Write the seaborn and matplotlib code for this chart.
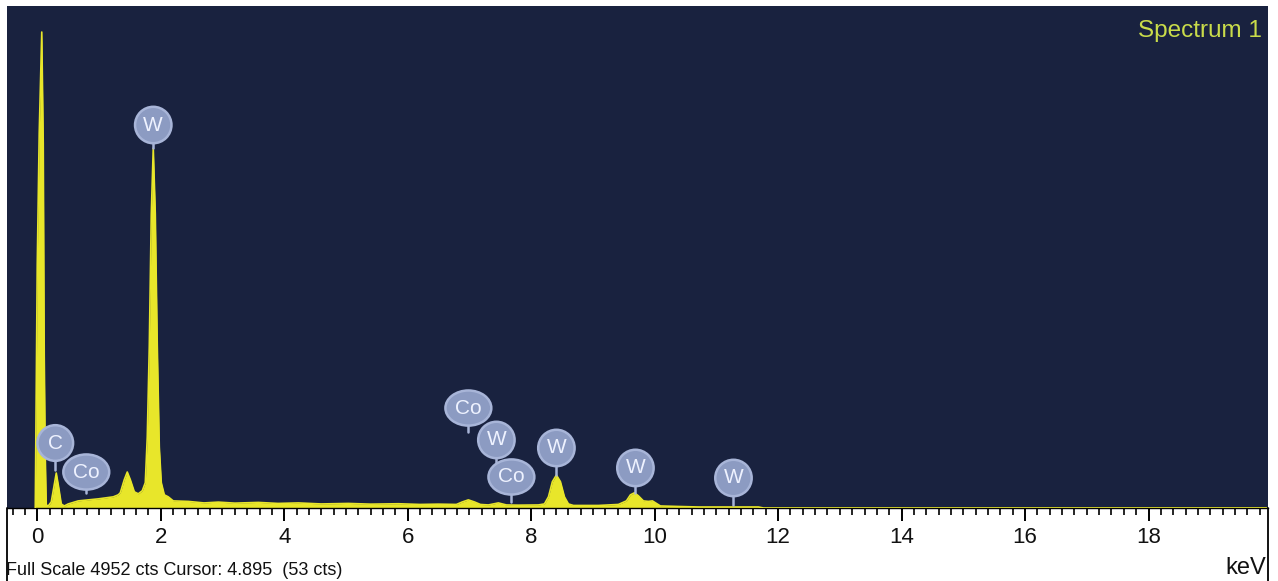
import matplotlib
matplotlib.use("Agg")
import matplotlib.pyplot as plt
import seaborn as sns
import pandas as pd
from matplotlib.lines import Line2D
from matplotlib.ticker import MultipleLocator

# ---- data (energy in keV, intensity in counts) ----
energy_kev = [-0.032, -0.016, 0.000, 0.032, 0.073, 0.097, 0.113, 0.130, 0.146,
              0.178, 0.227, 0.267, 0.308, 0.348, 0.389, 0.437,
              0.502, 0.664, 0.826, 0.988, 1.231, 1.312,
              1.345, 1.410, 1.458, 1.507, 1.572, 1.636, 1.701,
              1.750, 1.782, 1.815, 1.847, 1.879, 1.912, 1.944, 1.977, 2.009, 2.058, 2.122, 2.203,
              2.447, 2.700, 2.933, 3.200, 3.581, 3.900, 4.229, 4.600, 5.039, 5.400, 5.849, 6.200, 6.497,
              6.789, 6.886, 6.983, 7.080, 7.178,
              7.307, 7.469, 7.599, 7.793, 8.117,
              8.215, 8.280, 8.344, 8.409, 8.474, 8.539, 8.604, 8.685,
              9.089, 9.413, 9.543, 9.608, 9.673, 9.737, 9.818, 9.899, 9.964, 10.029, 10.094,
              10.386, 10.710, 11.682, 11.763, 19.910]
counts = [0, 1200, 2400, 3700, 4695, 3600, 1500, 500, 30,
          20, 60, 200, 345, 200, 40, 20,
          40, 70, 80, 90, 110, 130,
          150, 280, 355, 280, 160, 140, 170,
          250, 700, 1600, 2900, 3551, 2900, 1600, 600, 250, 130, 110, 70,
          65, 50, 58, 48, 55, 45, 50, 40, 45, 38, 42, 35, 38,
          35, 60, 80, 60, 35,
          30, 50, 30, 28, 30,
          40, 110, 260, 325, 260, 110, 40, 25,
          25, 35, 70, 130, 150, 120, 70, 65, 70, 45, 20,
          15, 10, 10, 0, 0]

# peak identification badges
badge_text = ["C", "Co", "W", "Co", "W", "Co", "W", "W", "W"]
badge_kev = [0.292, 0.794, 1.879, 6.983, 7.437, 7.680, 8.409, 9.689, 11.277]
badge_cts = [641, 355, 3778, 986, 671, 306, 592, 395, 296]
stem_end_cts = [375, 148, 3551, 750, 454, 59, 325, 148, 30]

major_ticks = [0, 2, 4, 6, 8, 10, 12, 14, 16, 18]
full_scale = 4952
info_text = "Full Scale 4952 cts Cursor: 4.895  (53 cts)"
unit_text = "keV"
title_text = "Spectrum 1"

# ---- styling ----
BG = "#19223f"
YELLOW = "#e8e62a"
BADGE = "#8c9bc2"
BADGE_EDGE = "#a8b5d8"

sns.set_theme(style="dark")
plt.rcParams["font.family"] = ["Liberation Sans", "DejaVu Sans"]

W, H = 1278, 581
fig = plt.figure(figsize=(W / 100, H / 100), dpi=100)
fig.patch.set_facecolor("white")
ax_left, ax_right, ax_top, ax_bot = 7, 1268, 6, 508
ax = fig.add_axes([ax_left / W, (H - ax_bot) / H, (ax_right - ax_left) / W, (ax_bot - ax_top) / H])
ax.set_facecolor(BG)

df = pd.DataFrame({"keV": energy_kev, "cts": counts})
ax.fill_between(df["keV"], 0, df["cts"], color=YELLOW, linewidth=0, zorder=2)
sns.lineplot(data=df, x="keV", y="cts", ax=ax, color=YELLOW, linewidth=1.2,
             sort=False, estimator=None, zorder=3)

ax.set_xlim(-0.49, 19.935)
ax.set_ylim(0, full_scale)
ax.set_xlabel("")
ax.set_ylabel("")
ax.grid(False)
ax.set_yticks([])
ax.set_xticks(major_ticks)
ax.set_xticklabels([str(t) for t in major_ticks])
ax.xaxis.set_minor_locator(MultipleLocator(0.2))
ax.tick_params(axis="x", which="major", direction="out", length=9, width=1.4,
               color="black", labelsize=16, pad=5, labelcolor="#111111", bottom=True)
ax.tick_params(axis="x", which="minor", direction="out", length=5, width=1.2,
               color="black", bottom=True)
for s in ["top", "left", "right"]:
    ax.spines[s].set_visible(False)
ax.spines["bottom"].set_color("black")
ax.spines["bottom"].set_linewidth(1.0)

# badges with stems
for t, bx, by, se in zip(badge_text, badge_kev, badge_cts, stem_end_cts):
    ax.plot([bx, bx], [se, by], color=BADGE_EDGE, linewidth=1.8, zorder=4)
    if len(t) > 1:
        bb = dict(boxstyle="ellipse,pad=0.14", fc=BADGE, ec=BADGE_EDGE, lw=1.8)
    else:
        bb = dict(boxstyle="circle,pad=0.4", fc=BADGE, ec=BADGE_EDGE, lw=1.8)
    ax.text(bx, by, t, ha="center", va="center", fontsize=15, color="#eef2ff",
            bbox=bb, zorder=5)

# title at top right
ax.text(0.9955, 0.973, title_text, transform=ax.transAxes, ha="right", va="top",
        fontsize=17.5, color="#c9dc4a")

# frame lines extending into the lower panel
fig.add_artist(Line2D([ax_left / W, ax_left / W], [0, (H - ax_bot) / H], color="black", lw=1.3))
fig.add_artist(Line2D([ax_right / W, ax_right / W], [0, (H - ax_bot) / H], color="black", lw=1.3))

fig.text(6 / W, 2 / H, info_text, ha="left", va="bottom", fontsize=13, color="#111111")
fig.text(1266 / W, 2 / H, unit_text, ha="right", va="bottom", fontsize=17, color="#111111")

fig.savefig("out.png", dpi=100, facecolor="white")
